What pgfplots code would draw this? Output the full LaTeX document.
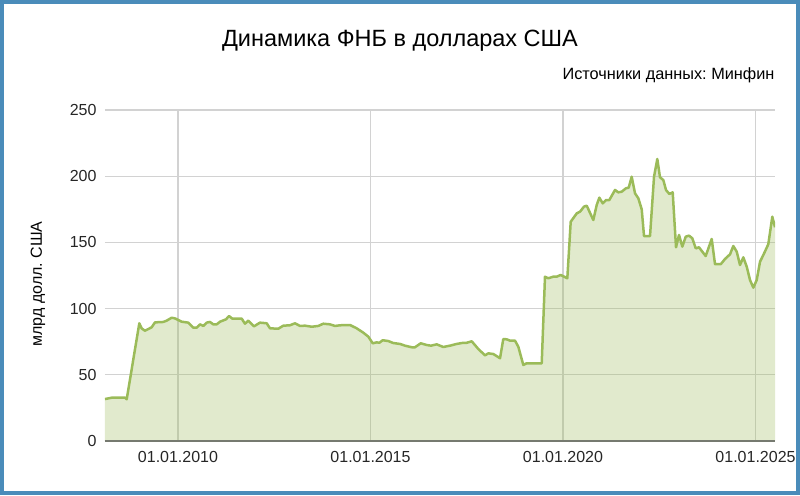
\documentclass[border=0pt]{standalone}
\usepackage{fontspec}
\setmainfont{Liberation Sans}
\usepackage{pgfplots}
\pgfplotsset{compat=1.18}
\frenchspacing

\definecolor{fnbline}{RGB}{155,187,89}
\definecolor{framecol}{RGB}{74,140,186}
\definecolor{gridcol}{RGB}{210,210,210}
\definecolor{axisgray}{RGB}{118,122,112}

\begin{document}
\begin{tikzpicture}
% outer frame, 800 x 495 px with 1px = 1pt
\useasboundingbox (-105pt,-54pt) rectangle (695pt,441pt);
\draw[framecol, line width=4pt] (-103pt,-52pt) rectangle (693pt,439pt);

\begin{axis}[
  at={(0pt,0pt)}, anchor=south west,
  width=670pt, height=331pt,
  scale only axis,
  xmin=2008.104, xmax=2025.506,
  ymin=0, ymax=250,
  xtick={2010,2015,2020,2025},
  xticklabels={01.01.2010,01.01.2015,01.01.2020,01.01.2025},
  ytick={0,50,...,250},
  major tick length=0pt,
  axis line style={draw=none},
  grid=major,
  major grid style={gridcol, line width=1.1pt},
  /pgf/number format/assume math mode=true,
  tick label style={font=\fontsize{16}{19}\selectfont, text=black!85},
  xticklabel style={yshift=-7pt},
  yticklabel style={xshift=-5pt},
  clip=true,
]
\addplot[draw=none, fill=fnbline, fill opacity=0.3] coordinates {
(2008.104,31.7) (2008.278,32.7) (2008.623,32.7) (2008.668,31.5)
(2008.995,88.9) (2009.057,85.0) (2009.143,83.3) (2009.317,85.9)
(2009.403,89.6) (2009.618,89.9) (2009.706,90.9) (2009.836,93.1)
(2009.922,92.6) (2010.096,90.1) (2010.268,89.4) (2010.397,85.6)
(2010.486,85.6) (2010.571,88.1) (2010.657,86.9) (2010.745,89.4)
(2010.831,89.9) (2010.917,88.1) (2011.005,88.1) (2011.091,90.1)
(2011.247,91.9) (2011.325,94.4) (2011.410,92.4) (2011.655,92.4)
(2011.740,88.6) (2011.826,90.9) (2011.974,86.6) (2012.130,89.4)
(2012.304,88.9) (2012.390,85.1) (2012.605,84.8) (2012.735,87.1)
(2012.909,87.4) (2013.039,88.9) (2013.169,86.9) (2013.299,87.1)
(2013.473,86.3) (2013.644,86.9) (2013.774,88.6) (2013.948,88.1)
(2014.078,86.9) (2014.208,87.4) (2014.468,87.6) (2014.642,85.1)
(2014.813,81.8) (2014.943,78.8) (2015.057,73.8) (2015.161,74.5)
(2015.229,74.2) (2015.317,76.1) (2015.462,75.5) (2015.592,74.0)
(2015.766,73.3) (2015.896,72.0) (2016.070,70.8) (2016.156,70.8)
(2016.304,73.8) (2016.460,72.5) (2016.571,72.0) (2016.719,73.0)
(2016.891,71.0) (2017.065,72.0) (2017.239,73.3) (2017.369,74.0)
(2017.499,74.2) (2017.629,75.3) (2017.800,69.5) (2017.974,64.7)
(2018.060,66.2) (2018.190,65.7) (2018.364,62.5) (2018.449,77.0)
(2018.538,76.8) (2018.623,75.8) (2018.753,75.8) (2018.839,71.2)
(2018.969,57.4) (2019.057,58.7) (2019.317,58.7) (2019.447,58.7)
(2019.532,124.1) (2019.618,122.9) (2019.748,124.1) (2019.836,124.1)
(2019.940,125.4) (2020.112,122.9) (2020.200,165.6) (2020.356,171.9)
(2020.442,173.2) (2020.545,177.0) (2020.616,177.7) (2020.787,166.9)
(2020.875,178.2) (2020.943,183.8) (2021.031,179.5) (2021.117,182.0)
(2021.203,182.0) (2021.351,189.6) (2021.436,187.8) (2021.525,188.3)
(2021.636,190.9) (2021.706,191.3) (2021.784,199.6) (2021.870,187.1)
(2021.956,183.3) (2022.044,175.0) (2022.104,154.8) (2022.260,154.8)
(2022.364,199.6) (2022.449,213.0) (2022.519,199.2) (2022.605,197.1)
(2022.675,189.6) (2022.761,186.6) (2022.849,187.8) (2022.935,146.3)
(2023.013,155.6) (2023.099,146.8) (2023.187,154.3) (2023.273,155.1)
(2023.358,153.1) (2023.447,145.5) (2023.532,146.3) (2023.618,143.0)
(2023.706,139.7) (2023.862,152.6) (2023.948,133.5) (2024.096,133.5)
(2024.208,137.5) (2024.338,141.0) (2024.423,147.3) (2024.512,143.0)
(2024.597,132.9) (2024.683,138.7) (2024.771,131.7) (2024.857,121.6)
(2024.943,115.8) (2025.031,121.6) (2025.117,135.4) (2025.203,140.5)
(2025.332,148.6) (2025.436,169.4) (2025.506,161.4)
} \closedcycle;
\addplot[fnbline, line width=2.5pt, line join=round] coordinates {
(2008.104,31.7) (2008.278,32.7) (2008.623,32.7) (2008.668,31.5)
(2008.995,88.9) (2009.057,85.0) (2009.143,83.3) (2009.317,85.9)
(2009.403,89.6) (2009.618,89.9) (2009.706,90.9) (2009.836,93.1)
(2009.922,92.6) (2010.096,90.1) (2010.268,89.4) (2010.397,85.6)
(2010.486,85.6) (2010.571,88.1) (2010.657,86.9) (2010.745,89.4)
(2010.831,89.9) (2010.917,88.1) (2011.005,88.1) (2011.091,90.1)
(2011.247,91.9) (2011.325,94.4) (2011.410,92.4) (2011.655,92.4)
(2011.740,88.6) (2011.826,90.9) (2011.974,86.6) (2012.130,89.4)
(2012.304,88.9) (2012.390,85.1) (2012.605,84.8) (2012.735,87.1)
(2012.909,87.4) (2013.039,88.9) (2013.169,86.9) (2013.299,87.1)
(2013.473,86.3) (2013.644,86.9) (2013.774,88.6) (2013.948,88.1)
(2014.078,86.9) (2014.208,87.4) (2014.468,87.6) (2014.642,85.1)
(2014.813,81.8) (2014.943,78.8) (2015.057,73.8) (2015.161,74.5)
(2015.229,74.2) (2015.317,76.1) (2015.462,75.5) (2015.592,74.0)
(2015.766,73.3) (2015.896,72.0) (2016.070,70.8) (2016.156,70.8)
(2016.304,73.8) (2016.460,72.5) (2016.571,72.0) (2016.719,73.0)
(2016.891,71.0) (2017.065,72.0) (2017.239,73.3) (2017.369,74.0)
(2017.499,74.2) (2017.629,75.3) (2017.800,69.5) (2017.974,64.7)
(2018.060,66.2) (2018.190,65.7) (2018.364,62.5) (2018.449,77.0)
(2018.538,76.8) (2018.623,75.8) (2018.753,75.8) (2018.839,71.2)
(2018.969,57.4) (2019.057,58.7) (2019.317,58.7) (2019.447,58.7)
(2019.532,124.1) (2019.618,122.9) (2019.748,124.1) (2019.836,124.1)
(2019.940,125.4) (2020.112,122.9) (2020.200,165.6) (2020.356,171.9)
(2020.442,173.2) (2020.545,177.0) (2020.616,177.7) (2020.787,166.9)
(2020.875,178.2) (2020.943,183.8) (2021.031,179.5) (2021.117,182.0)
(2021.203,182.0) (2021.351,189.6) (2021.436,187.8) (2021.525,188.3)
(2021.636,190.9) (2021.706,191.3) (2021.784,199.6) (2021.870,187.1)
(2021.956,183.3) (2022.044,175.0) (2022.104,154.8) (2022.260,154.8)
(2022.364,199.6) (2022.449,213.0) (2022.519,199.2) (2022.605,197.1)
(2022.675,189.6) (2022.761,186.6) (2022.849,187.8) (2022.935,146.3)
(2023.013,155.6) (2023.099,146.8) (2023.187,154.3) (2023.273,155.1)
(2023.358,153.1) (2023.447,145.5) (2023.532,146.3) (2023.618,143.0)
(2023.706,139.7) (2023.862,152.6) (2023.948,133.5) (2024.096,133.5)
(2024.208,137.5) (2024.338,141.0) (2024.423,147.3) (2024.512,143.0)
(2024.597,132.9) (2024.683,138.7) (2024.771,131.7) (2024.857,121.6)
(2024.943,115.8) (2025.031,121.6) (2025.117,135.4) (2025.203,140.5)
(2025.332,148.6) (2025.436,169.4) (2025.506,161.4)
};
% zero line
\draw[axisgray, line width=2pt] (rel axis cs:0,0) -- (rel axis cs:1,0);
\end{axis}

% title, source note and y label
\node[anchor=base, font=\fontsize{23.5}{28}\selectfont] at (295pt,394pt)
  {Динамика ФНБ в долларах США};
\node[anchor=base east, font=\fontsize{16.3}{19}\selectfont] at (673pt,361pt)
  {Источники данных: Минфин};
\node[rotate=90, anchor=base, font=\fontsize{16}{19}\selectfont] at (-63pt,157pt)
  {млрд долл. США};
\end{tikzpicture}
\end{document}
